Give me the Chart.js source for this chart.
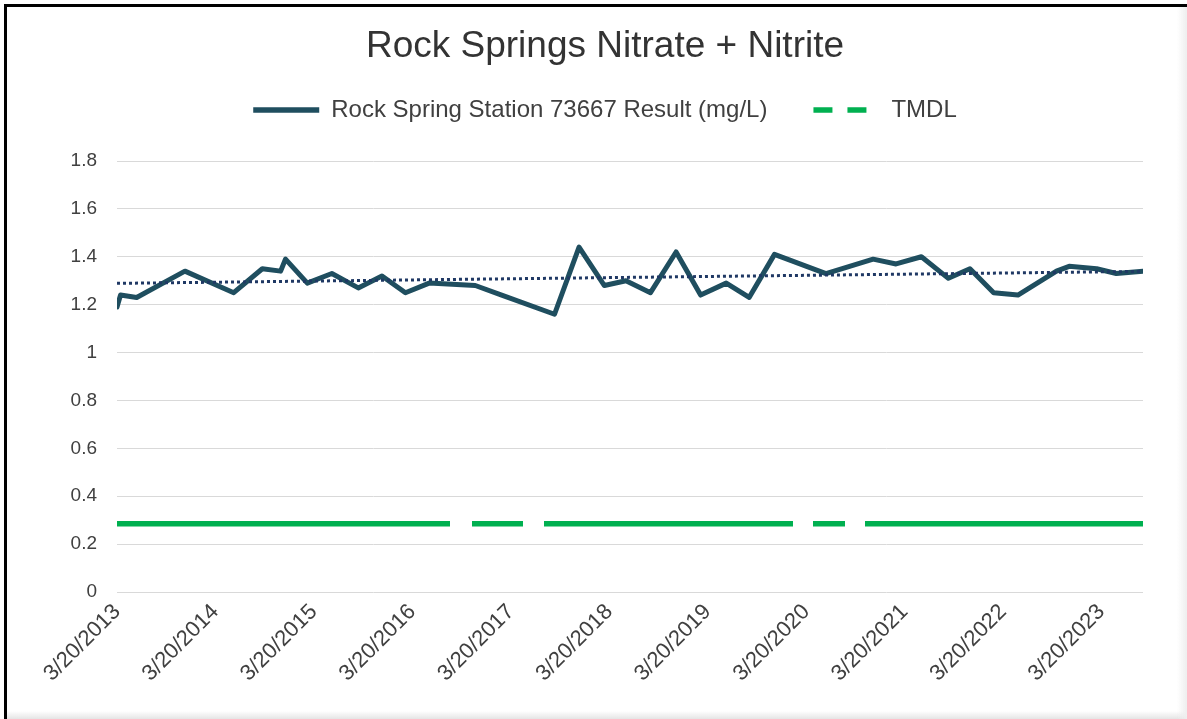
<!DOCTYPE html>
<html>
<head>
<meta charset="utf-8">
<script src="https://cdn.jsdelivr.net/npm/chart.js@4.4.1/dist/chart.umd.min.js"></script>
<style>
html,body{margin:0;padding:0;background:#fff;}
#wrap{position:relative;width:1187px;height:719px;overflow:hidden;background:#fff;}
#c{position:absolute;left:0;top:0;}
#frameTop{position:absolute;left:4px;top:4px;right:0;height:3px;background:#000;}
#frameLeft{position:absolute;left:4px;top:4px;bottom:0;width:3px;background:#000;}
#shadeB{position:absolute;left:7px;right:0;bottom:0;height:8px;background:linear-gradient(rgba(230,230,230,0),#e4e4e4);}
#shadeR{position:absolute;top:7px;right:0;bottom:0;width:10px;background:linear-gradient(90deg,rgba(240,240,240,0),#eeeeee);}
</style>
</head>
<body>
<div id="wrap">
  <canvas id="c" width="1187" height="719"></canvas>
  <div id="shadeB"></div>
  <div id="shadeR"></div>
  <div id="frameTop"></div>
  <div id="frameLeft"></div>
</div>
<script>
// ---- data ----
const titleText = 'Rock Springs Nitrate + Nitrite';
const seriesNames = ['Rock Spring Station 73667 Result (mg/L)', 'TMDL'];
const sampleDates = [
  '2013-03-20','2013-04-02','2013-06-01','2013-11-27','2014-05-27','2014-09-10',
  '2014-11-17','2014-12-05','2015-02-24','2015-05-26','2015-09-01','2015-11-28',
  '2016-02-23','2016-05-21','2016-11-08','2017-02-14','2017-08-29','2017-11-28',
  '2018-03-02','2018-05-21','2018-08-20','2018-11-23','2019-02-22','2019-05-28',
  '2019-08-21','2019-11-23','2020-06-01','2020-11-23','2021-02-16','2021-05-21',
  '2021-08-29','2021-11-17','2022-02-13','2022-05-14','2022-10-04','2022-11-20',
  '2023-03-02','2023-05-14','2023-08-21'
];
const resultValues = [
  1.19, 1.24, 1.23, 1.34, 1.25, 1.35,
  1.34, 1.39, 1.29, 1.33, 1.27, 1.32,
  1.25, 1.29, 1.28, 1.24, 1.16, 1.44,
  1.28, 1.30, 1.25, 1.42, 1.24, 1.29,
  1.23, 1.41, 1.33, 1.39, 1.37, 1.40,
  1.31, 1.35, 1.25, 1.24, 1.34, 1.36,
  1.35, 1.33, 1.34
];
const tmdlValue = 0.285;
const trendValues = [1.289, 1.339];          // linear trendline, start / end
const tickYears = [2013,2014,2015,2016,2017,2018,2019,2020,2021,2022,2023];
const tickMonth = 3, tickDay = 20;
const yRange = [0, 1.8];
const yStep = 0.2;

// ---- chart ----
const toMs = s => Date.parse(s + 'T00:00:00Z');
const xs = sampleDates.map(toMs);
const xMin = xs[0], xMax = xs[xs.length - 1];
const FONT = "'Liberation Sans', Arial, sans-serif";
const TEXT = '#404040';

new Chart(document.getElementById('c'), {
  type: 'line',
  data: {
    datasets: [
      {
        label: seriesNames[0],
        data: xs.map((x, i) => ({x, y: resultValues[i]})),
        borderColor: '#1f4e5f',
        backgroundColor: '#1f4e5f',
        borderWidth: 5,
        borderJoinStyle: 'round',
        borderCapStyle: 'round',
        pointRadius: 0,
        tension: 0,
        order: 1
      },
      {
        label: seriesNames[1],
        data: [{x: xMin, y: tmdlValue}, {x: xMax, y: tmdlValue}],
        borderColor: '#00b050',
        backgroundColor: '#00b050',
        borderWidth: 5.5,
        borderDash: [333, 22, 51, 21, 249, 20, 32, 20, 400],
        pointRadius: 0,
        order: 2
      },
      {
        label: 'trend',
        data: [{x: xMin, y: trendValues[0]}, {x: xMax, y: trendValues[1]}],
        borderColor: '#1f3864',
        borderWidth: 3,
        borderDash: [3, 3],
        pointRadius: 0,
        order: 0
      }
    ]
  },
  options: {
    responsive: false,
    animation: false,
    devicePixelRatio: 1,
    layout: {padding: {left: 67, right: 44, top: 0, bottom: 0}},
    plugins: {
      tooltip: {enabled: false},
      title: {
        display: true,
        text: titleText,
        color: '#333333',
        font: {family: FONT, size: 37, weight: 'normal'},
        padding: {top: 25, bottom: -17.4}
      },
      subtitle: {
        display: true,
        text: '',
        weight: 500,
        font: {size: 1},
        padding: {top: 0, bottom: 27.8}
      },
      legend: {
        display: true,
        position: 'top',
        labels: {
          color: TEXT,
          font: {family: FONT, size: 24},
          usePointStyle: true,
          pointStyleWidth: 66,
          boxHeight: 10,
          padding: 46,
          filter: item => item.datasetIndex < 2,
          generateLabels: chart => {
            const items = Chart.defaults.plugins.legend.labels.generateLabels(chart);
            items.forEach(it => {
              it.pointStyle = 'line';
              it.lineWidth = 5.5;
              it.lineCap = 'butt';
              it.lineDash = it.datasetIndex === 1 ? [19, 15] : [];
            });
            return items;
          }
        }
      }
    },
    scales: {
      x: {
        type: 'linear',
        min: xMin,
        max: xMax,
        afterFit: s => { s.height = 127; },
        afterBuildTicks: s => {
          s.ticks = tickYears.map(y => ({value: Date.UTC(y, tickMonth - 1, tickDay)}));
        },
        grid: {display: false, drawTicks: false},
        border: {display: false},
        ticks: {
          autoSkip: false,
          maxRotation: 45,
          minRotation: 45,
          padding: 7,
          color: TEXT,
          font: {family: FONT, size: 22},
          callback: v => {
            const d = new Date(v);
            return (d.getUTCMonth() + 1) + '/' + d.getUTCDate() + '/' + d.getUTCFullYear();
          }
        }
      },
      y: {
        min: yRange[0],
        max: yRange[1],
        afterFit: s => { s.width = 50; },
        grid: {color: '#d9d9d9', lineWidth: 1, drawTicks: false},
        border: {display: false},
        ticks: {
          stepSize: yStep,
          padding: 20,
          color: TEXT,
          font: {family: FONT, size: 19},
          callback: v => String(Number(v.toFixed(1)))
        }
      }
    }
  }
});
</script>
</body>
</html>
